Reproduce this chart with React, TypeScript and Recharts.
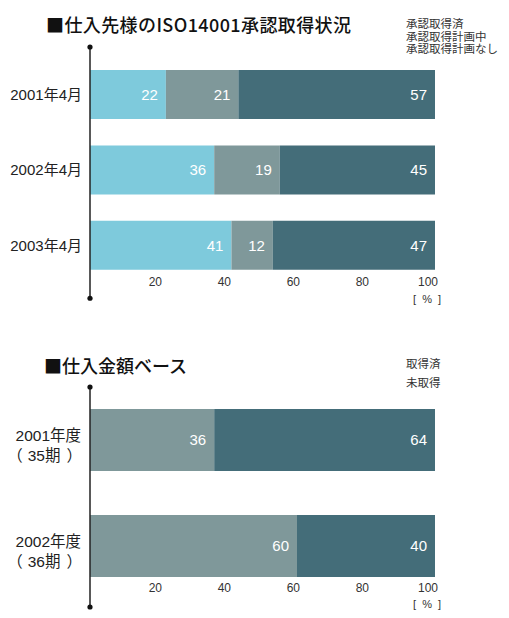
import { Bar, BarChart, LabelList, ReferenceLine, XAxis, YAxis } from 'recharts';

// 仕入先様のISO14001承認取得状況
const supplierPeriods = ['2001年4月', '2002年4月', '2003年4月'];
const acquired = [22, 36, 41];
const planned = [21, 19, 12];
const noPlan = [57, 45, 47];

// 仕入金額ベース
const amountYears = ['2001年度', '2002年度'];
const amountTerms = ['35期', '36期'];
const amountAcquired = [36, 60];
const amountNotAcquired = [64, 40];

const xTicks = [20, 40, 60, 80, 100];

const colors = {
  acquired: '#7ecadc',
  planned: '#7f989a',
  none: '#446d79',
};

const FONT = "'Liberation Sans', 'Noto Sans CJK JP', sans-serif";
const CJK_FONT = "'Noto Sans CJK JP', 'Liberation Sans', sans-serif";

const supplierData = supplierPeriods.map((period, i) => ({
  period,
  acquired: acquired[i],
  planned: planned[i],
  noPlan: noPlan[i],
}));

const amountData = amountYears.map((period, i) => ({
  period,
  term: amountTerms[i],
  acquired: amountAcquired[i],
  notAcquired: amountNotAcquired[i],
}));

// x軸の目盛り（プロット下端から dy だけずらす）
const makeXTick = (dy: number) => (props: any) => {
  const { x, y, payload } = props;
  return (
    <text
      x={x + 3}
      y={y + dy}
      textAnchor="end"
      dominantBaseline="central"
      fontSize={12}
      fill="#333"
      fontFamily={FONT}
    >
      {payload.value}
    </text>
  );
};

// 縦軸の線と両端の点
const makeAxisLine = (extTop: number, extBottom: number) => (props: any) => {
  const { x1, y1, y2 } = props;
  const top = Math.min(y1, y2) - extTop;
  const bottom = Math.max(y1, y2) + extBottom;
  return (
    <g>
      <line x1={x1} y1={top} x2={x1} y2={bottom} stroke="#222" strokeWidth={1.5} />
      <circle cx={x1} cy={top} r={2.6} fill="#111" />
      <circle cx={x1} cy={bottom} r={2.6} fill="#111" />
    </g>
  );
};

const TwoLineTick = (props: any) => {
  const { x, y, payload, index } = props;
  const term = amountData[index]?.term ?? '';
  return (
    <g>
      <text x={x} y={y - 5} textAnchor="end" dominantBaseline="central" fontSize={15.5} fill="#222" fontFamily={FONT}>
        {payload.value}
      </text>
      <text x={x + 1} y={y + 15} textAnchor="end" dominantBaseline="central" fontSize={15.5} fill="#222" fontFamily={FONT}>
        <tspan>（</tspan>
        <tspan dx={5}>{term}</tspan>
        <tspan dx={6}>）</tspan>
      </text>
    </g>
  );
};

const valueLabel = { position: 'insideRight' as const, offset: 8, fill: '#fff', fontSize: 15, fontFamily: FONT };

const titleStyle: React.CSSProperties = {
  position: 'absolute',
  fontSize: 18,
  fontWeight: 500,
  color: '#111',
  fontFamily: CJK_FONT,
  lineHeight: '20px',
  whiteSpace: 'nowrap',
};

const legendStyle: React.CSSProperties = {
  position: 'absolute',
  left: 406,
  fontSize: 11.5,
  color: '#333',
  fontFamily: FONT,
  whiteSpace: 'nowrap',
};

const unitStyle: React.CSSProperties = {
  position: 'absolute',
  left: 413,
  fontSize: 11,
  color: '#333',
  fontFamily: FONT,
  whiteSpace: 'pre',
};

export default function App() {
  return (
    <div style={{ position: 'absolute', left: 0, top: 0, width: 509, height: 618, background: '#fff', fontFamily: FONT }}>
      <div style={{ ...titleStyle, left: 46, top: 14, letterSpacing: 0.4 }}>■仕入先様のISO14001承認取得状況</div>
      <div style={{ ...legendStyle, top: 18, lineHeight: '12.5px' }}>
        承認取得済
        <br />
        承認取得計画中
        <br />
        承認取得計画なし
      </div>

      <div style={{ position: 'absolute', left: 0, top: 0 }}>
        <BarChart
          width={509}
          height={310}
          data={supplierData}
          layout="vertical"
          barSize={49}
          margin={{ top: 57, right: 74, bottom: 0, left: 0 }}
        >
          <XAxis
            type="number"
            domain={[0, 100]}
            ticks={xTicks}
            axisLine={false}
            tickLine={false}
            tickSize={0}
            tickMargin={0}
            height={26.75}
            tick={makeXTick(-1)}
          />
          <YAxis
            type="category"
            dataKey="period"
            width={90}
            axisLine={false}
            tickLine={false}
            tickSize={0}
            tickMargin={8}
            tick={{ fontSize: 15, fill: '#222', fontFamily: FONT }}
          />
          <Bar dataKey="acquired" stackId="s" fill={colors.acquired} isAnimationActive={false}>
            <LabelList dataKey="acquired" {...valueLabel} />
          </Bar>
          <Bar dataKey="planned" stackId="s" fill={colors.planned} isAnimationActive={false}>
            <LabelList dataKey="planned" {...valueLabel} />
          </Bar>
          <Bar dataKey="noPlan" stackId="s" fill={colors.none} isAnimationActive={false}>
            <LabelList dataKey="noPlan" {...valueLabel} />
          </Bar>
          <ReferenceLine x={0} shape={makeAxisLine(10, 15)} ifOverflow="visible" />
        </BarChart>
      </div>
      <div style={{ ...unitStyle, top: 293 }}>{'[  %  ]'}</div>

      <div style={{ ...titleStyle, left: 44, top: 355 }}>■仕入金額ベース</div>
      <div style={{ ...legendStyle, top: 355, lineHeight: '19px' }}>
        取得済
        <br />
        未取得
      </div>

      <div style={{ position: 'absolute', left: 0, top: 340 }}>
        <BarChart
          width={509}
          height={278}
          data={amountData}
          layout="vertical"
          barSize={62}
          margin={{ top: 47, right: 74, bottom: 0, left: 0 }}
        >
          <XAxis
            type="number"
            domain={[0, 100]}
            ticks={xTicks}
            axisLine={false}
            tickLine={false}
            tickSize={0}
            tickMargin={0}
            height={19}
            tick={makeXTick(-11)}
          />
          <YAxis
            type="category"
            dataKey="period"
            width={90}
            axisLine={false}
            tickLine={false}
            tickSize={0}
            tickMargin={9}
            tick={<TwoLineTick />}
          />
          <Bar dataKey="acquired" stackId="s" fill={colors.planned} isAnimationActive={false}>
            <LabelList dataKey="acquired" {...valueLabel} />
          </Bar>
          <Bar dataKey="notAcquired" stackId="s" fill={colors.none} isAnimationActive={false}>
            <LabelList dataKey="notAcquired" {...valueLabel} />
          </Bar>
          <ReferenceLine x={0} shape={makeAxisLine(0, 8)} ifOverflow="visible" />
        </BarChart>
      </div>
      <div style={{ ...unitStyle, top: 598 }}>{'[  %  ]'}</div>
    </div>
  );
}
